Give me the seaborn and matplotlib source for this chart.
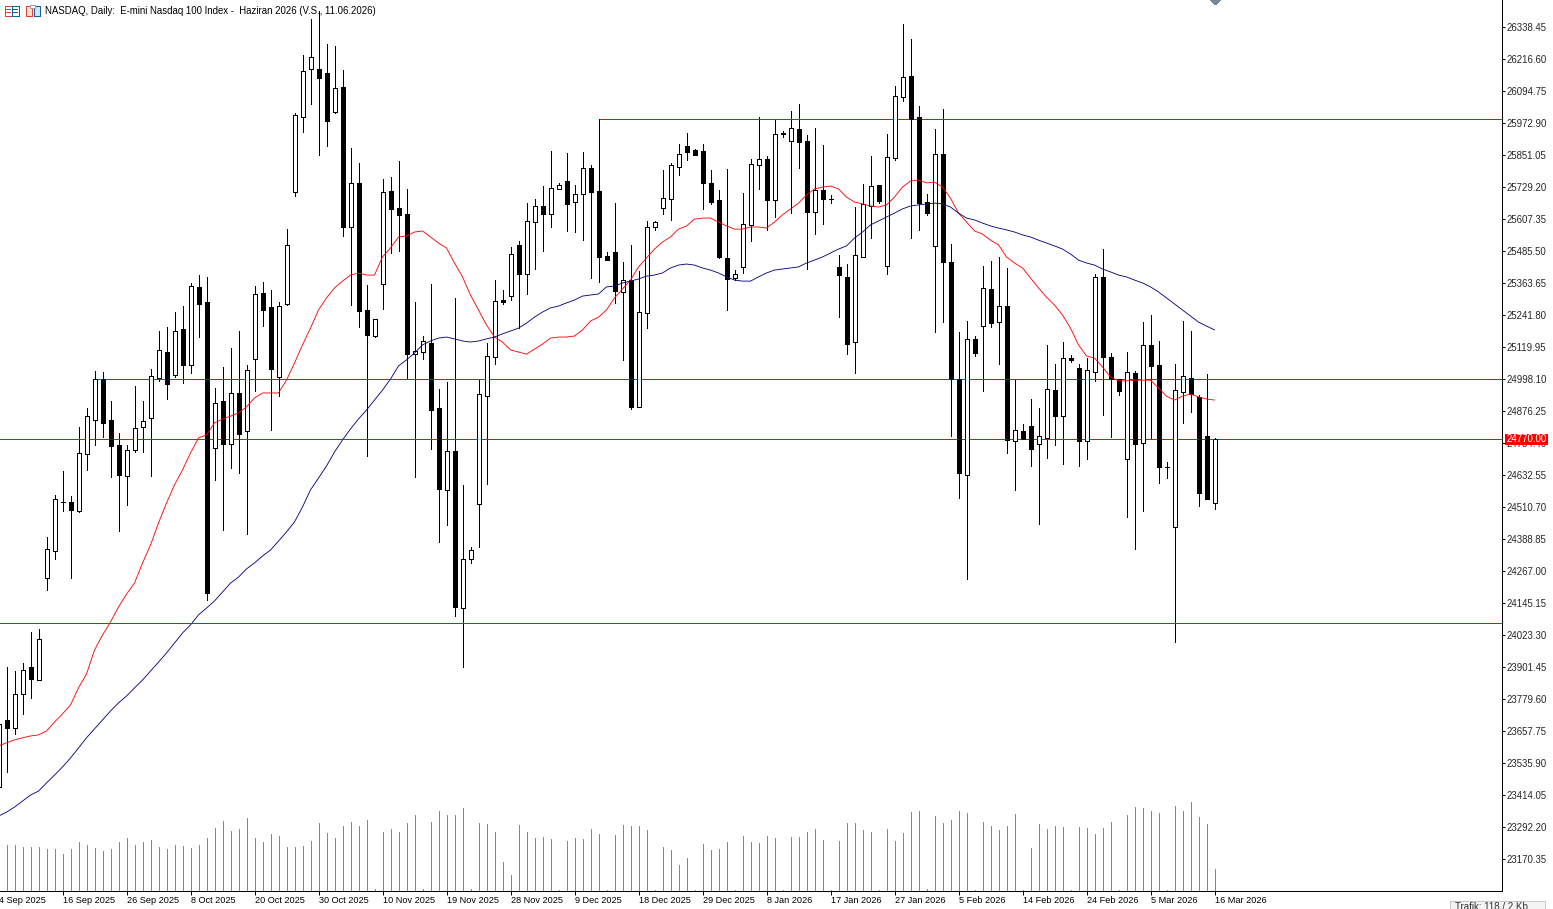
#!/usr/bin/env python3
# -*- coding: utf-8 -*-
import numpy as np
import pandas as pd
import seaborn as sns
import matplotlib.pyplot as plt
from matplotlib.patches import Rectangle, Polygon
from matplotlib.transforms import Affine2D

# E-mini Nasdaq 100, daily bars
opens = [23446,23701,23670,23800,23903,23853,24241,24344,24531,24531,24497,24714,24843,24999,24843,24748,24630,24729,24817,24851,
         25003,25102,25015,25190,25053,25350,25293,24737,24915,24752,24946,24801,25075,25327,25273,25007,25285,25711,25997,26180,
         26180,26164,26016,26111,25578,25746,25262,25163,25361,25715,25651,25628,25094,25102,25136,24889,24577,24725,24127,24314,
         24523,24935,25083,25300,25315,25510,25399,25597,25658,25628,25723,25753,25673,25704,25803,25715,25468,25483,25331,25376,
         24893,25251,25578,25651,25685,25807,25886,25871,25867,25746,25681,25460,25384,25426,25586,25814,25837,25681,25936,25906,
         25951,25906,25635,25719,25685,25426,25388,25140,25464,25658,25738,25430,25841,26073,26153,25997,25673,25506,25856,25445,
         24999,24634,25152,25201,25342,25216,25277,24763,24801,24820,24752,24775,24957,24858,25079,25041,24763,25026,25388,25083,
         24999,24694,25022,24756,25129,25053,24664,24436,24950,25003,24931,24782,24527]
highs = [23758,23903,23887,23918,24036,24047,24398,24558,24649,24554,24817,24889,25030,25026,24916,24794,24748,24973,24915,25037,
         25182,25197,25254,25277,25365,25395,25388,24965,25045,25117,25182,25053,25353,25369,25338,25293,25570,26012,26233,26370,
         26401,26275,26267,26176,25879,25822,25357,25228,25761,25768,25829,25723,25293,25163,25361,24961,24988,25308,24596,24360,
         24999,25136,25376,25338,25502,25525,25669,25685,25734,25867,25746,25860,25738,25864,25814,25989,25483,25669,25445,25510,
         25411,25601,25601,25795,25822,25894,25936,25875,25894,25795,25719,25799,25414,25708,25837,25997,25848,25986,25944,26020,
         26046,25928,25955,25890,25700,25471,25437,25654,25742,25848,25738,25932,26115,26351,26294,26039,25704,25951,26027,25513,
         25178,25220,25163,25430,25448,25464,25422,24999,24828,24923,24889,25129,25056,25140,25091,25056,25079,25399,25494,25098,
         24999,25102,25030,25216,25243,25144,24683,25056,25220,25182,24938,25018,24775]
lows = [23446,23503,23647,23724,23785,23853,24196,24314,24497,24241,24493,24653,24748,24778,24626,24420,24519,24721,24721,24630,
        24992,24923,25007,24984,25022,25159,24158,24615,24424,24660,24641,24409,24953,25201,24805,24934,25281,25696,25940,26046,
        25852,25886,26012,25544,25281,25197,24706,25159,25266,25479,25487,24999,24626,25075,24733,24378,24443,24097,23903,24299,
        24360,24599,25056,25285,25300,25193,25323,25418,25487,25578,25723,25563,25559,25528,25384,25369,25452,25289,25072,24885,
        24893,25193,25567,25628,25605,25776,25833,25852,25647,25666,25460,25262,25376,25403,25525,25723,25567,25616,25921,25631,
        25803,25418,25551,25589,25669,25235,25094,25022,25464,25536,25669,25399,25833,26058,25536,25567,25624,25178,25216,24782,
        24546,24238,25087,24953,25197,25056,24718,24577,24770,24668,24447,24698,24748,24676,25064,24668,24694,24992,24862,24778,
        24938,24474,24352,24497,24775,24603,24622,23998,24832,24874,24516,24542,24504]
closes = [23686,23670,23800,23891,23857,24009,24352,24542,24531,24500,24718,24858,24999,24832,24744,24634,24729,24813,24839,25011,
          25110,24980,25182,25053,25353,25285,24184,24908,24752,24946,24790,25034,25323,25262,25037,25277,25510,26005,26172,26225,
          26145,25982,26107,25578,25746,25258,25167,25228,25711,25647,25624,25094,25106,25144,24881,24580,24725,24131,24314,24348,
          24942,25087,25296,25293,25475,25399,25601,25658,25628,25727,25738,25666,25704,25803,25711,25464,25452,25334,25376,24893,
          25254,25578,25597,25689,25814,25856,25864,25852,25746,25673,25464,25380,25399,25589,25818,25837,25681,25932,25932,25955,
          25902,25635,25719,25685,25685,25395,25133,25471,25666,25734,25677,25845,26077,26149,25989,25669,25631,25856,25445,24999,
          24641,25152,25098,25346,25213,25277,24767,24805,24770,24733,24782,24961,24858,25079,25072,24763,25034,25388,25083,24999,
          24953,25026,24752,25129,25049,24664,24664,24957,25011,24942,24565,24542,24770]

ma_fast = [23602,23614,23625,23633,23640,23644,23659,23693,23724,23758,23823,23876,23967,24024,24074,24131,24180,24222,24298,24367,
           24451,24527,24596,24653,24717,24775,24786,24832,24847,24858,24870,24893,24927,24946,24946,24946,24995,25060,25129,25193,
           25262,25308,25346,25372,25395,25403,25395,25395,25464,25498,25540,25544,25559,25563,25540,25517,25498,25441,25388,25319,
           25262,25205,25159,25140,25110,25102,25094,25113,25132,25155,25159,25159,25163,25186,25220,25235,25262,25308,25342,25376,
           25426,25460,25494,25521,25540,25570,25582,25608,25612,25612,25597,25582,25570,25570,25578,25578,25574,25597,25624,25647,
           25669,25700,25723,25730,25734,25723,25692,25673,25666,25658,25654,25662,25692,25730,25753,25757,25746,25749,25730,25688,
           25631,25597,25563,25551,25528,25510,25464,25441,25422,25384,25346,25311,25281,25243,25193,25129,25087,25079,25045,25007,
           24992,24992,24995,24995,24995,24965,24934,24919,24934,24942,24931,24923,24919]
ma_slow = [23335,23350,23369,23392,23415,23430,23461,23491,23522,23556,23594,23633,23667,23701,23735,23766,23792,23823,23853,23887,
           23921,23956,23994,24032,24063,24101,24127,24154,24188,24222,24245,24276,24299,24325,24348,24382,24417,24455,24512,24577,
           24622,24668,24721,24767,24809,24847,24881,24919,24957,24999,25049,25072,25098,25129,25144,25155,25159,25152,25144,25140,
           25144,25152,25159,25171,25182,25193,25212,25235,25254,25270,25277,25289,25300,25315,25319,25323,25350,25353,25365,25372,
           25380,25391,25395,25403,25422,25433,25437,25433,25422,25414,25403,25388,25376,25372,25372,25388,25403,25414,25418,25422,
           25426,25441,25452,25464,25479,25494,25506,25536,25559,25586,25601,25616,25631,25647,25658,25662,25666,25669,25666,25654,
           25631,25612,25605,25593,25582,25574,25567,25559,25548,25540,25528,25517,25506,25494,25475,25452,25441,25433,25418,25407,
           25395,25388,25376,25365,25350,25331,25308,25285,25262,25239,25216,25201,25186]

volumes = [44,46,46,44,44,44,42,42,37,42,49,46,43,40,42,49,53,46,49,51,
           44,42,46,45,43,46,53,63,70,60,62,73,53,49,57,55,44,44,45,50,
           68,58,53,65,69,65,71,2,59,62,59,68,76,2,69,80,76,76,83,2,
           68,67,59,29,16,66,59,53,54,52,1,50,53,52,62,57,1,56,66,65,
           65,61,1,44,41,26,33,1,47,41,42,49,1,55,49,48,55,53,1,54,
           54,59,62,51,1,50,68,68,61,59,1,62,50,58,79,80,2,75,68,71,
           80,78,1,69,65,61,65,77,1,43,67,62,65,64,1,64,63,57,63,69,
           1,76,84,83,80,78,1,85,80,89,74,67,22]

level_prices = [25988, 24998.10, 24770, 24069]
level_starts = [75, 12, 0, 0]
last_price = 24770.00

price_ticks = [26338.45 - 121.85 * i for i in range(27)]
date_ticks = [0, 8, 16, 24, 32, 40, 48, 56, 64, 72, 80, 88, 96, 104, 112, 120, 128, 136, 144, 152]
date_labels = ['4 Sep 2025', '16 Sep 2025', '26 Sep 2025', '8 Oct 2025', '20 Oct 2025', '30 Oct 2025',
               '10 Nov 2025', '19 Nov 2025', '28 Nov 2025', '9 Dec 2025', '18 Dec 2025', '29 Dec 2025',
               '8 Jan 2026', '17 Jan 2026', '27 Jan 2026', '5 Feb 2026', '14 Feb 2026', '24 Feb 2026',
               '5 Mar 2026', '16 Mar 2026']
title = 'NASDAQ, Daily:  E-mini Nasdaq 100 Index -  Haziran 2026 (V.S., 11.06.2026)'

sns.set_style('white')
plt.rcParams['font.family'] = ['Liberation Sans', 'DejaVu Sans']
plt.rcParams['font.size'] = 7
plt.rcParams['text.antialiased'] = True
plt.rcParams['lines.antialiased'] = False
plt.rcParams['patch.antialiased'] = False

W, H = 1553, 909
PX = 0.72  # one pixel in points at dpi 100

df = pd.DataFrame({'bar': np.arange(len(opens)), 'open': opens, 'high': highs, 'low': lows, 'close': closes,
                   'fast': ma_fast, 'slow': ma_slow, 'vol': volumes})
df['top'] = df[['open', 'close']].max(axis=1)
df['bot'] = df[['open', 'close']].min(axis=1)
df['up'] = df['close'] > df['open']

fig = plt.figure(figsize=(W / 100, H / 100), dpi=100, facecolor='white')
ax = fig.add_axes([0, (H - 891) / H, 1502 / W, 891 / H])
ax.set_xlim(0.1875, 187.9375)
ax.set_ylim(23049.65, 26442.4)

# volume sits in its own scale on the floor of the window
ax_vol = ax.twinx()
ax_vol.set_ylim(0, 891)
ax_vol.vlines(df['bar'], 0, df['vol'], color='#3CBC3C', lw=PX)
ax_vol.set_yticks([])
ax_vol.set_zorder(0)
ax.set_zorder(1)
ax.patch.set_visible(False)
for s in ax_vol.spines.values():
    s.set_visible(False)

for price, start in zip(level_prices, level_starts):
    ax.hlines(price, start, 187.9375, color='#FF0000', lw=PX, zorder=2)

ax.vlines(df['bar'], df['low'], df['high'], color='black', lw=PX, zorder=3)
ax.bar(df['bar'], df['top'] - df['bot'], bottom=df['bot'], width=0.5,
       color=np.where(df['up'], 'white', 'black'), edgecolor='black', linewidth=PX, zorder=4)

sns.lineplot(data=df, x='bar', y='fast', color='#FF0000', ax=ax, errorbar=None, estimator=None, sort=False, zorder=5)
sns.lineplot(data=df, x='bar', y='slow', color='#000080', ax=ax, errorbar=None, estimator=None, sort=False, zorder=5)
# the staircase lines come out fat without antialiasing
for line in ax.get_lines():
    line.set_antialiased(True)
    line.set_linewidth(0.62)

ax.set_xlabel('')
ax.set_ylabel('')
for s in ['left', 'top']:
    ax.spines[s].set_visible(False)
for s in ['right', 'bottom']:
    ax.spines[s].set_visible(True)
    ax.spines[s].set_color('black')
    ax.spines[s].set_linewidth(PX)

ax.yaxis.tick_right()
ax.set_yticks(price_ticks)
ax.set_yticklabels(['%.2f' % p for p in price_ticks])
ax.tick_params(axis='y', which='major', length=3 * PX, width=PX, color='black', pad=1, labelsize=6.9, right=True)
ax.set_xticks(date_ticks[1:])
ax.set_xticklabels([])
ax.tick_params(axis='x', which='major', length=4 * PX, width=PX, color='black', bottom=True)

for bar, lab in zip(date_ticks, date_labels):
    ax.annotate(lab, (bar, 0), xycoords=ax.get_xaxis_transform(), xytext=(0.7, -6.6), textcoords='offset points',
                ha='left', va='center', fontsize=6.6, color='black', annotation_clip=False)

# pixel space measured from the top left corner, for the terminal's furniture
px = Affine2D().scale(1, -1).translate(0, H)

fig.add_artist(Rectangle((1505, 434), 43, 11, transform=px, facecolor='#FF0000', edgecolor='none', zorder=5))
fig.text(1507, 439.5, '%.2f' % last_price, transform=px, color='white', fontsize=6.9, ha='left', va='center', zorder=6)
fig.text(45, 10.5, title, transform=px, color='black', fontsize=6.9, ha='left', va='center', zorder=6)

fig.add_artist(Polygon([(1210.5, 0), (1220.5, 0), (1215.5, 5)], transform=px,
                       facecolor='#778899', edgecolor='none', zorder=5))

# toolbar icons
fig.add_artist(Rectangle((4.5, 6), 7, 9.5, transform=px, facecolor='white', edgecolor='#E04030', lw=PX, zorder=5))
fig.add_artist(Rectangle((11.5, 6), 7, 9.5, transform=px, facecolor='white', edgecolor='#1060A8', lw=PX, zorder=5))
for yy in [9, 12]:
    fig.add_artist(Rectangle((5, yy), 6, 0.6, transform=px, facecolor='#E04030', edgecolor='none', zorder=5))
    fig.add_artist(Rectangle((12, yy), 6, 0.6, transform=px, facecolor='#1060A8', edgecolor='none', zorder=5))
fig.add_artist(Rectangle((25.5, 6), 6.5, 9.5, transform=px, facecolor='#FDE0D8', edgecolor='#E04030', lw=PX, zorder=5))
fig.add_artist(Rectangle((33.5, 6), 6, 9.5, transform=px, facecolor='#CFE6F8', edgecolor='#1060A8', lw=PX, zorder=5))
fig.add_artist(Rectangle((30, 5), 5, 3, transform=px, facecolor='white', edgecolor='#A0A0A0', lw=PX, zorder=6))

# traffic box runs off the bottom of the window
fig.add_artist(Rectangle((1450, 901), 95, 12, transform=px, facecolor='#F4F4F4', edgecolor='#C8C8C8', lw=PX, zorder=5))
fig.text(1455, 907.5, 'Trafik: 118 / 2 Kb', transform=px, color='#303030', fontsize=7, ha='left', va='center', zorder=6)

fig.savefig('out.png', dpi=100)
